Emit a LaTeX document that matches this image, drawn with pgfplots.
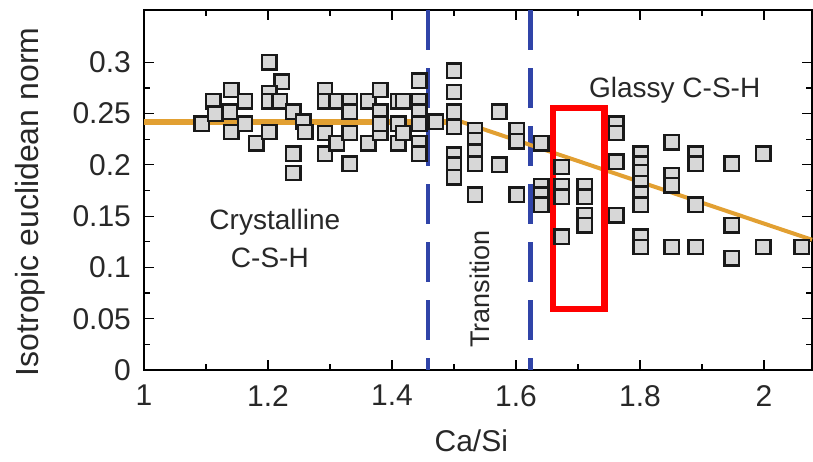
\documentclass[border=0pt]{standalone}
\usepackage{fontspec}
\setmainfont{Liberation Sans}
\usepackage{pgfplots}
\pgfplotsset{compat=1.18}
\definecolor{curve}{RGB}{226,160,50}
\definecolor{vline}{RGB}{48,68,168}
\definecolor{mfill}{RGB}{215,215,215}
\definecolor{txt}{RGB}{40,40,40}
\begin{document}
\begin{tikzpicture}
\begin{axis}[
  width=334pt, height=180pt, scale only axis,
  xmin=1, xmax=2.0774, ymin=0, ymax=0.351,
  xtick={1,1.2,1.4,1.6,1.8,2}, xticklabels={1,1.2,1.4,1.6,1.8,2},
  ytick={0,0.05,0.1,0.15,0.2,0.25,0.3}, yticklabels={0,0.05,0.1,0.15,0.2,0.25,0.3},
  minor x tick num=1, minor y tick num=1,
  tick align=inside, major tick length=5pt, minor tick length=3pt,
  tick style={black, line width=0.6pt},
  axis line style={black, line width=0.7pt},
  ticklabel style={font=\fontsize{15}{18}\selectfont, text=txt},
  xticklabel style={yshift=-4pt},
  yticklabel style={xshift=-3pt},
  xlabel={Ca/Si}, ylabel={Isotropic euclidean norm},
  xlabel style={font=\fontsize{15}{18}\selectfont, text=txt, at={(axis description cs:0.49,-0.196)}, anchor=center},
  ylabel style={font=\fontsize{16}{19}\selectfont, text=txt, at={(axis description cs:-0.171,0.467)}, anchor=center},
  clip=false,
]
\coordinate (SW) at (rel axis cs:0,0);
\coordinate (NE) at (rel axis cs:1,1);
% dashed boundaries
\addplot[vline, line width=2.4pt, dash pattern=on 20pt off 9pt] coordinates {(1.458,0.351) (1.458,0)};
\addplot[vline, line width=2.4pt, dash pattern=on 20pt off 9pt] coordinates {(1.6236,0.351) (1.6236,0)};
% data
\addplot[only marks, mark=square*, mark size=3.6pt, mark options={fill=mfill, draw=black!90, line width=1.2pt}] table {
x y
1.093 0.240
1.112 0.262
1.115 0.250
1.141 0.273
1.138 0.252
1.141 0.232
1.163 0.262
1.163 0.240
1.181 0.221
1.202 0.300
1.222 0.281
1.202 0.270
1.202 0.262
1.219 0.262
1.202 0.232
1.241 0.252
1.241 0.211
1.241 0.192
1.257 0.242
1.260 0.232
1.292 0.273
1.292 0.262
1.292 0.231
1.292 0.211
1.311 0.262
1.311 0.221
1.332 0.262
1.332 0.252
1.332 0.231
1.332 0.201
1.362 0.262
1.362 0.221
1.381 0.273
1.381 0.252
1.381 0.231
1.381 0.240
1.410 0.262
1.410 0.240
1.410 0.221
1.418 0.231
1.418 0.262
1.444 0.282
1.444 0.262
1.444 0.252
1.444 0.240
1.444 0.221
1.444 0.211
1.471 0.242
1.500 0.292
1.500 0.271
1.500 0.252
1.500 0.237
1.500 0.210
1.500 0.200
1.500 0.188
1.534 0.234
1.534 0.224
1.534 0.213
1.534 0.201
1.534 0.171
1.573 0.252
1.573 0.200
1.601 0.234
1.601 0.223
1.601 0.171
1.641 0.221
1.641 0.179
1.641 0.171
1.641 0.161
1.674 0.198
1.674 0.179
1.674 0.169
1.674 0.130
1.711 0.179
1.711 0.169
1.711 0.151
1.711 0.141
1.762 0.240
1.762 0.231
1.762 0.203
1.762 0.151
1.801 0.211
1.801 0.201
1.801 0.193
1.801 0.182
1.801 0.172
1.801 0.161
1.801 0.130
1.801 0.120
1.851 0.222
1.851 0.190
1.851 0.180
1.851 0.120
1.890 0.211
1.890 0.201
1.890 0.161
1.890 0.120
1.948 0.201
1.948 0.141
1.948 0.109
1.999 0.211
1.999 0.120
2.061 0.120
};
% fitted curve
\addplot[curve, line width=3pt] coordinates {(1,0.242) (1.512,0.242)};
\addplot[curve, line width=2pt] coordinates {(1.50,0.242) (1.512,0.242) (2.0774,0.127)};
% red highlight box
\addplot[red, line width=3.3pt, line join=miter] coordinates {(1.6597,0.0595) (1.6597,0.2554) (1.7427,0.2554) (1.7427,0.0595) (1.6597,0.0595) (1.6597,0.2554)};
% annotations
\node[text=txt, font=\fontsize{14}{17}\selectfont] at (axis cs:1.211,0.144) {Crystalline};
\node[text=txt, font=\fontsize{14}{17}\selectfont] at (axis cs:1.203,0.109) {C-S-H};
\node[text=txt, font=\fontsize{13.5}{16}\selectfont, rotate=90] at (axis cs:1.542,0.079) {Transition};
\node[text=txt, font=\fontsize{14}{17}\selectfont] at (axis cs:1.856,0.273) {Glassy C-S-H};
\end{axis}
\pgfresetboundingbox
\path[use as bounding box] ([shift={(-72pt,-45.5pt)}]SW) rectangle ([shift={(0.5pt,5pt)}]NE);
\end{tikzpicture}
\end{document}
